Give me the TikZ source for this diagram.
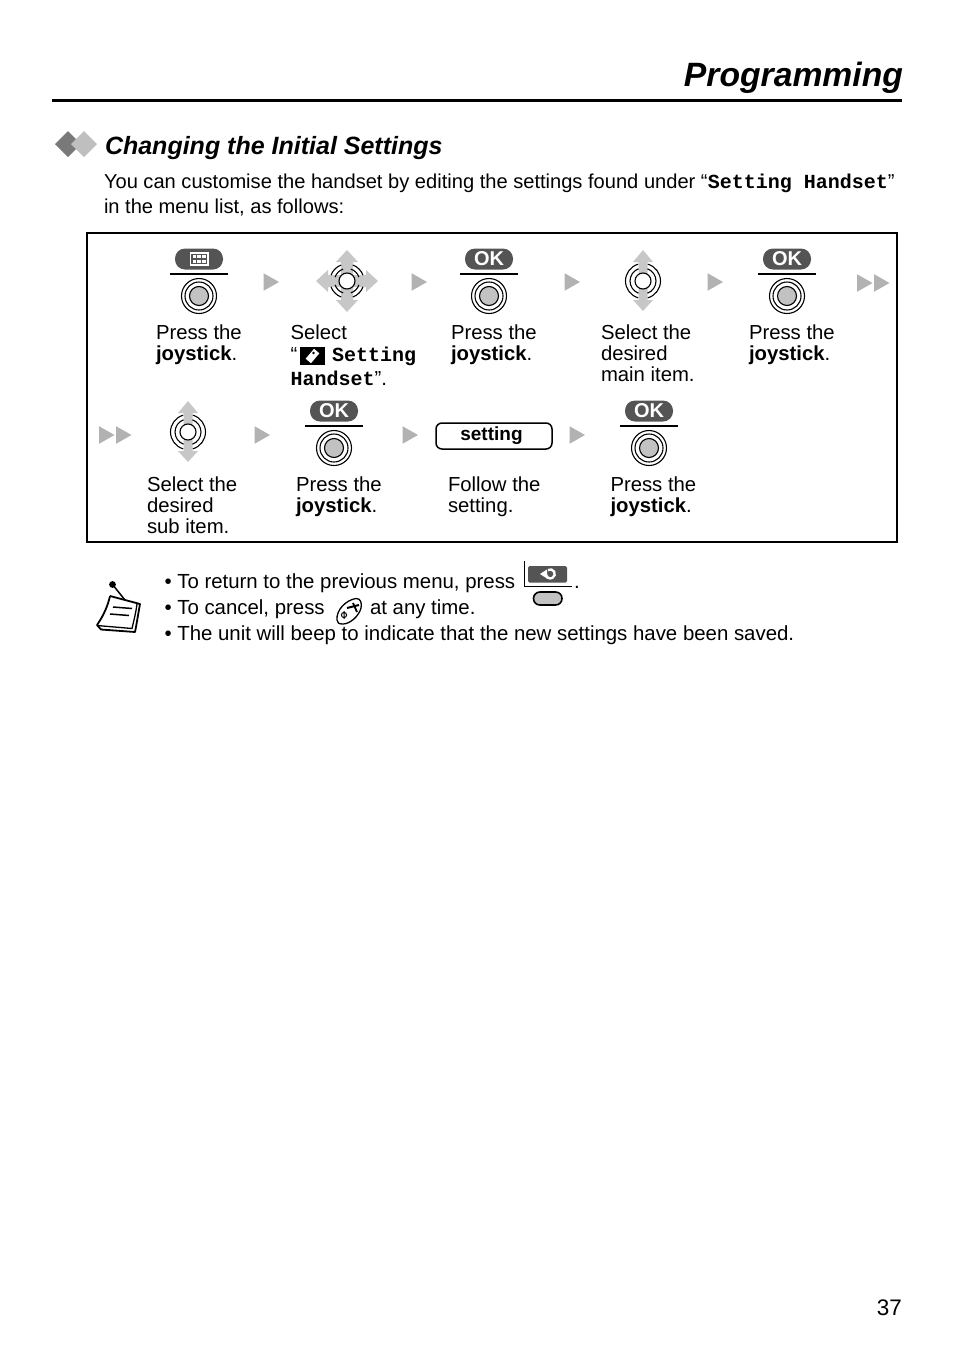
\documentclass[tikz,border=0pt]{standalone}
\usepackage{fontspec}
\setmainfont{Liberation Sans}
\setmonofont{Liberation Mono}
\usetikzlibrary{positioning, calc}

\definecolor{keydark}{gray}{0.33}
\definecolor{arrowgray}{gray}{0.70}
\definecolor{crossgray}{gray}{0.78}
\definecolor{padgray}{gray}{0.76}

\newcommand{\menutt}[1]{{\fontsize{20}{21}\selectfont\ttfamily\bfseries #1}}

\begin{document}
\begin{tikzpicture}[
    x=1pt, y=-1pt,
    every node/.style={inner sep=0pt, outer sep=0pt},
    body/.style={anchor=north west, align=left, font=\fontsize{20.3}{21}\selectfont},
    line/.style={anchor=base west, font=\fontsize{20.3}{21}\selectfont},
    noteline/.style={anchor=base west, font=\fontsize{20.4}{21}\selectfont},
    okkey/.style={draw=none, fill=keydark, rounded corners=10pt, minimum width=48pt, minimum height=21pt,
                  text=white, font=\fontsize{20}{20}\selectfont\bfseries},
    nextarrow/.style={fill=arrowgray},
    ring/.style={draw=black, line width=1.1pt},
    press/.pic={
        \draw[line width=1.6pt] (-29,-22) -- (29,-22);
        \draw[ring] (0,0) circle[radius=17.5];
        \draw[ring] (0,0) circle[radius=14];
        \draw[ring, fill=padgray] (0,0) circle[radius=9.5];
    },
    tilt/.pic={
        \fill[crossgray] (0,-31) -- (10,-19) -- (4.5,-19) -- (4.5,19) -- (10,19) -- (0,30) -- (-10,19) -- (-4.5,19) -- (-4.5,-19) -- (-10,-19) -- cycle;
        \draw[ring, fill=white] (0,0) circle[radius=8];
        \foreach \ang/\sweep in {0/70,180/70,0/-70,180/-70} {
            \draw[ring] (\ang:13) arc[start angle=\ang, delta angle=\sweep, radius=13];
        }
        \foreach \ang/\sweep in {0/74,180/74,0/-74,180/-74} {
            \draw[ring] (\ang:17.5) arc[start angle=\ang, delta angle=\sweep, radius=17.5];
        }
    },
    tiltall/.pic={
        \fill[crossgray] (0,-31) -- (11,-19) -- (6,-19) -- (6,-6) -- (19,-6) -- (19,-11) -- (31,0) -- (19,11) -- (19,6) -- (6,6) -- (6,19) -- (11,19) -- (0,31) -- (-11,19) -- (-6,19) -- (-6,6) -- (-19,6) -- (-19,11) -- (-31,0) -- (-19,-11) -- (-19,-6) -- (-6,-6) -- (-6,-19) -- (-11,-19) -- cycle;
        \foreach \ang in {45,135,225,315} {
            \draw[ring] ({\ang-27}:12.5) arc[start angle=\ang-27, end angle=\ang+27, radius=12.5];
            \draw[ring] ({\ang-25}:17) arc[start angle=\ang-25, end angle=\ang+25, radius=17];
        }
        \draw[ring, fill=white] (0,0) circle[radius=8];
    },
    single/.pic={\fill[nextarrow] (-7.5,-8.8) -- (8,0) -- (-7.5,8.8) -- cycle;},
    double/.pic={
        \fill[nextarrow] (-16,-8.8) -- (-0.5,0) -- (-16,8.8) -- cycle;
        \fill[nextarrow] (1,-8.8) -- (16.5,0) -- (1,8.8) -- cycle;
    }
]
\useasboundingbox (0,0) rectangle (954,1352);

%---------------- Page head ----------------
\node[anchor=base east, font=\fontsize{33.7}{34}\selectfont\bfseries\itshape] (title) at (903,86) {Programming};
\draw[line width=3pt] (52,100) -- (902,100);

\fill[gray!95!black] (68,131) -- (81,144) -- (68,157) -- (55,144) -- cycle;
\fill[gray!50] (84,131) -- (97,144) -- (84,157) -- (71,144) -- cycle;
\node[anchor=base west, font=\fontsize{25}{26}\selectfont\bfseries\itshape] (heading) at (105,154) {Changing the Initial Settings};

\node[anchor=base west, font=\fontsize{20.1}{21}\selectfont] (introa) at (104,188) {You can customise the handset by editing the settings found under “\menutt{Setting Handset}”};
\node[anchor=base west, font=\fontsize{20.1}{21}\selectfont] (introb) at (104,213) {in the menu list, as follows:};

\draw[line width=1.4pt] (87,233) rectangle (897,542);

%---------------- Upper row ----------------
\node[okkey] (menu) at (199,259) {};
\fill[white] (189.5,252) rectangle (209,266);
\draw[keydark, line width=1.1pt] (192,254.5) rectangle (206.5,263.5)
    (192,259) -- (206.5,259) (196.8,254.5) -- (196.8,263.5) (201.7,254.5) -- (201.7,263.5);
\pic at (199,296) {press};
\pic at (271,282) {single};
\pic at (347,281) {tiltall};
\pic at (419,282) {single};
\node[okkey] (okone) at (489,259) {OK};
\pic at (489,296) {press};
\pic at (572,282) {single};
\pic at (643,281) {tilt};
\pic at (715,282) {single};
\node[okkey] (oktwo) at (787,259) {OK};
\pic at (787,296) {press};
\pic at (873,283) {double};

\node[body] (stepa) at (156,325) {Press the\\\textbf{joystick}.};
\node[line] (stepb) at (290.5,339) {Select};
\node[line] (quoteopen) at (290.5,361) {“};
\fill (300,347) rectangle (325,365);
\fill[white, rotate around={-40:(312.5,356)}] (309,349.5) rectangle (316,362.5);
\fill[black] (313.5,353) circle[radius=1.3];
\node[anchor=base west] (itemname) at (332,361.5) {\menutt{Setting}};
\node[line] (itemend) at (290.5,385) {\menutt{Handset}”.};
\node[body] (stepc) at (451,325) {Press the\\\textbf{joystick}.};
\node[body] (stepd) at (601,325) {Select the\\desired\\main item.};
\node[body] (stepe) at (749,325) {Press the\\\textbf{joystick}.};

%---------------- Lower row ----------------
\pic at (115,435) {double};
\pic at (188,432) {tilt};
\pic at (262,435) {single};
\node[okkey] (okthree) at (334,411) {OK};
\pic at (334,448) {press};
\pic at (410,435) {single};
\node[draw, line width=1.5pt, rounded corners=6pt, minimum width=116pt, minimum height=26pt,
      font=\fontsize{19}{19}\selectfont\bfseries] (setting) at (494,436) {\kern-5pt setting};
\pic at (577,435) {single};
\node[okkey] (okfour) at (649,411) {OK};
\pic at (649,448) {press};

\node[body] (stepf) at (147,476.5) {Select the\\desired\\sub item.};
\node[body] (stepg) at (296,476.5) {Press the\\\textbf{joystick}.};
\node[body] (steph) at (448,476.5) {Follow the\\setting.};
\node[body] (stepi) at (610.5,476.5) {Press the\\\textbf{joystick}.};

%---------------- Note ----------------
\draw[line width=1.8pt, line join=round, fill=white] (110,596) -- (140,604)
    .. controls (138,615) and (137,622) .. (135,632) -- (101,629.5) -- (97,625)
    .. controls (104,615) and (108,605) .. (110,596);
\draw[line width=1.3pt] (97,625.5) -- (132,628.5) .. controls (134,620) and (136,612) .. (137,604);
\draw[line width=1.5pt] (113,607) -- (132,608.5) (110,614) -- (129,615.5);
\fill (112.5,584.5) circle[radius=3.4];
\draw[line width=1.5pt] (112.5,584.5) -- (125,600);

\node[noteline] (notea) at (164.5,588.5) {• To return to the previous menu, press};
\node[noteline] (dot) at (574,588.5) {.};
\node[noteline] (noteb) at (164.5,614) {• To cancel, press};
\node[noteline] (notec) at (370,614) {at any time.};
\node[noteline] (noted) at (164.5,640) {• The unit will beep to indicate that the new settings have been saved.};

\draw[line width=1.5pt] (524.5,561) -- (524.5,586.5) -- (572,586.5);
\fill[keydark, rounded corners=1.5pt] (528,566) rectangle (567,582.5);
\draw[white, line width=2.4pt] (548,570) arc[start angle=-120, end angle=170, radius=4.5];
\fill[white] (540,574) -- (547,569.5) -- (547,578.5) -- cycle;
\draw[line width=1.6pt, fill=padgray, rounded corners=6.4pt] (533.5,592) rectangle (562,605);

\draw[line width=1.3pt] (337,620) .. controls (336,610) and (346,600) .. (356,598.5)
    .. controls (361,598) and (362,604) .. (361,608)
    .. controls (359,616) and (350,624) .. (343,624)
    .. controls (339,624) and (337,623) .. (337,620) -- cycle;
\draw[line width=2pt] (347,608) -- (359,605);
\draw[line width=1.8pt] (353,603) -- (357,612);
\draw[line width=1pt] (344,615) circle[radius=2.6] (344,611) -- (344,619);

\node[anchor=base east, font=\fontsize{22.5}{23}\selectfont] (pageno) at (902,1315) {37};
\end{tikzpicture}
\end{document}
